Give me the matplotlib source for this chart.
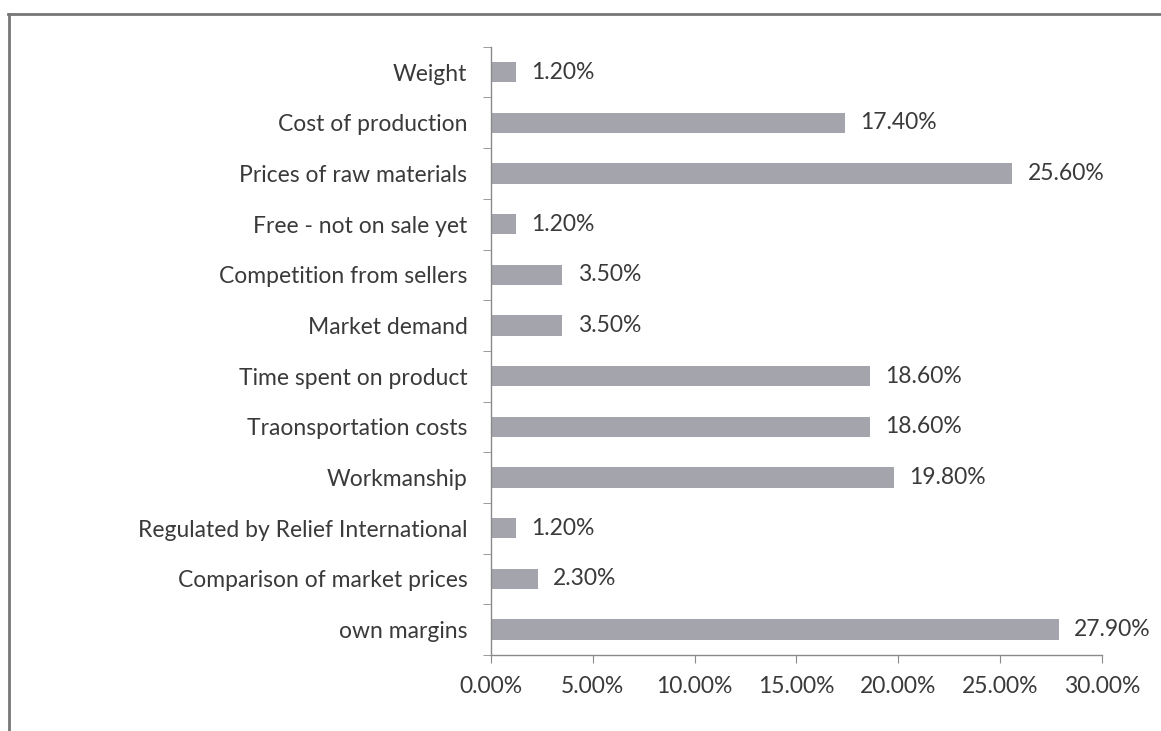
import matplotlib.pyplot as plt
import numpy as np
from matplotlib.ticker import FuncFormatter, FixedLocator

# === Data (top to bottom as shown) ===
categories = [
    "Weight",
    "Cost of production",
    "Prices of raw materials",
    "Free - not on sale yet",
    "Competition from sellers",
    "Market demand",
    "Time spent on product",
    "Traonsportation costs",
    "Workmanship",
    "Regulated by Relief International",
    "Comparison of market prices",
    "own margins",
]
values = [1.2, 17.4, 25.6, 1.2, 3.5, 3.5, 18.6, 18.6, 19.8, 1.2, 2.3, 27.9]
x_ticks = [0, 5, 10, 15, 20, 25, 30]

plt.rcParams['font.family'] = ['Lato', 'DejaVu Sans']
TEXT = '#3a3a3a'
AXIS = '#8a8a8a'
BAR = '#a4a4ad'
FS = 16.5

fig = plt.figure(figsize=(11.61, 7.31), dpi=100)
ax = fig.add_axes([0.423, 0.104, 0.526, 0.832])

n = len(categories)
y = np.arange(n)
ax.barh(y, values, height=0.4, color=BAR, edgecolor='none', zorder=2)

for yi, v in zip(y, values):
    ax.annotate(f"{v:.2f}%", (v, yi), xytext=(11, 0), textcoords='offset points',
                va='center', ha='left', fontsize=FS, color=TEXT)

ax.set_ylim(n - 0.5, -0.5)
ax.set_xlim(0, 30)

ax.set_yticks(y)
ax.set_yticklabels(categories, fontsize=FS, color=TEXT)
ax.tick_params(axis='y', which='major', length=0, pad=17)
ax.yaxis.set_minor_locator(FixedLocator(np.arange(-0.5, n, 1.0)))
ax.tick_params(axis='y', which='minor', length=6, color=AXIS, direction='out')

ax.set_xticks(x_ticks)
ax.xaxis.set_major_formatter(FuncFormatter(lambda v, p: f"{v:.2f}%"))
ax.tick_params(axis='x', length=6, color=AXIS, labelsize=FS, labelcolor=TEXT, pad=9)

for s in ['top', 'right']:
    ax.spines[s].set_visible(False)
for s in ['left', 'bottom']:
    ax.spines[s].set_color(AXIS)
    ax.spines[s].set_linewidth(1.0)

# scanned frame around the chart
fig.add_artist(plt.Line2D([8 / 1161, 1.0], [1 - 14 / 731, 1 - 14 / 731],
                          transform=fig.transFigure, color='#777777', lw=2))
fig.add_artist(plt.Line2D([9 / 1161, 9 / 1161], [0.0, 1 - 14 / 731],
                          transform=fig.transFigure, color='#777777', lw=2))

fig.savefig('out.png', dpi=100)
